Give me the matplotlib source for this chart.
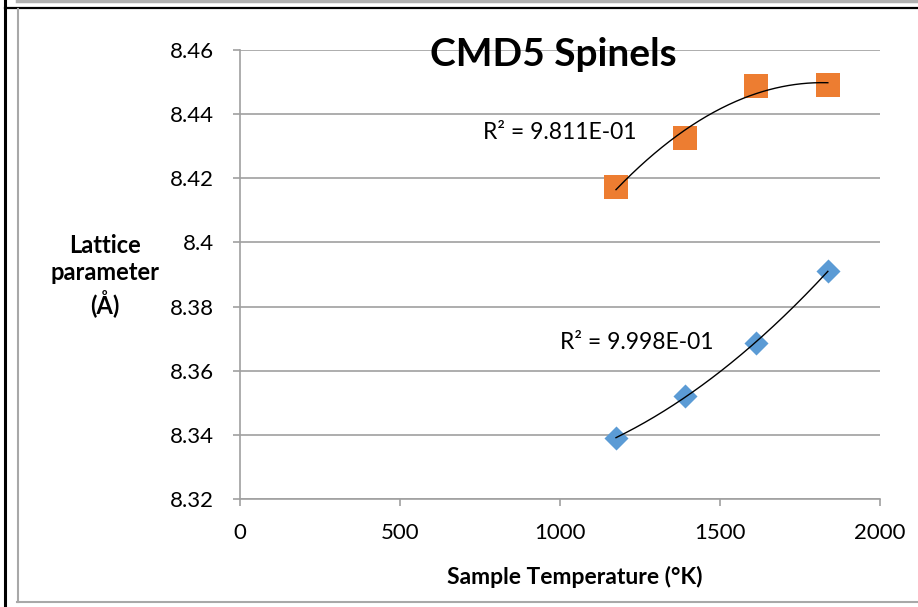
import numpy as np
import matplotlib
matplotlib.use("Agg")
import matplotlib.pyplot as plt
from matplotlib.lines import Line2D

# Data
temps_orange = [1175, 1391, 1612, 1837]
lattice_orange = [8.4173, 8.4326, 8.4488, 8.4490]
temps_blue = [1175, 1391, 1612, 1837]
lattice_blue = [8.3390, 8.3521, 8.3686, 8.3911]
r2_orange = "R² = 9.811E-01"
r2_blue = "R² = 9.998E-01"
title = "CMD5 Spinels"
xlabel = "Sample Temperature (°K)"
ylabel = "Lattice\nparameter\n(Å)"
xticks = [0, 500, 1000, 1500, 2000]
yticks = [8.32, 8.34, 8.36, 8.38, 8.40, 8.42, 8.44, 8.46]
yticklabels = ["8.32", "8.34", "8.36", "8.38", "8.4", "8.42", "8.44", "8.46"]

plt.rcParams['font.family'] = ['Lato', 'DejaVu Sans']

W, H = 918, 607
fig = plt.figure(figsize=(W / 100, H / 100), dpi=100)
fig.patch.set_facecolor('white')

def fx(px):
    return px / W
def fy(py):
    return 1 - py / H

# Frame lines (figure-level decoration)
fig.add_artist(Line2D([fx(17), 1], [fy(1), fy(1)], color='#b0b0b0', lw=2.5))
fig.add_artist(Line2D([fx(5), fx(5)], [fy(0), fy(605)], color='black', lw=2.2))
fig.add_artist(Line2D([fx(5), 1], [fy(8), fy(8)], color='black', lw=1.6))
fig.add_artist(Line2D([fx(17.5), fx(17.5)], [fy(9), fy(602)], color='#a8a8a8', lw=1.5))
fig.add_artist(Line2D([fx(17), 1], [fy(602), fy(602)], color='#a8a8a8', lw=1.5))

ax = fig.add_axes([240 / W, 1 - 499 / H, 640 / W, 449 / H])
ax.set_xlim(0, 2000)
ax.set_ylim(8.32, 8.46)
ax.set_xticks(xticks)
ax.set_yticks(yticks)
ax.set_yticklabels(yticklabels)
ax.grid(axis='y', color='#a0a0a0', lw=1.2, zorder=0)
for s in ['top', 'right']:
    ax.spines[s].set_visible(False)
for s in ['left', 'bottom']:
    ax.spines[s].set_color('#a0a0a0')
    ax.spines[s].set_linewidth(1.2)
ax.tick_params(axis='both', colors='#a0a0a0', labelcolor='black', width=1.2,
               length=5, labelsize=16)
ax.tick_params(axis='y', pad=13.5)
ax.tick_params(axis='x', pad=12)

# Trendlines (2nd-order polynomial fits)
for xs, ys in [(temps_orange, lattice_orange), (temps_blue, lattice_blue)]:
    c = np.polyfit(xs, ys, 2)
    xx = np.linspace(min(xs), max(xs), 200)
    ax.plot(xx, np.polyval(c, xx), color='black', lw=1.0, zorder=4)

ax.scatter(temps_orange, lattice_orange, marker='s', s=300, color='#ED7D31',
           zorder=3, linewidths=0)
ax.scatter(temps_blue, lattice_blue, marker='D', s=150, color='#5B9BD5',
           zorder=3, linewidths=0)

ax.text(1000, 8.4343, r2_orange, fontsize=16.5, ha='center', va='center', zorder=5)
ax.text(1241, 8.3688, r2_blue, fontsize=16.5, ha='center', va='center', zorder=5)

fig.text(fx(553), fy(54), title, fontsize=28, fontweight='bold',
         ha='center', va='center', zorder=6)

fig.text(fx(575), fy(577), xlabel, fontsize=16.5, fontweight='bold',
         ha='center', va='center')
fig.text(fx(105), fy(276), ylabel, fontsize=17, fontweight='bold',
         ha='center', va='center', linespacing=1.25)

fig.savefig('out.png', dpi=100)
